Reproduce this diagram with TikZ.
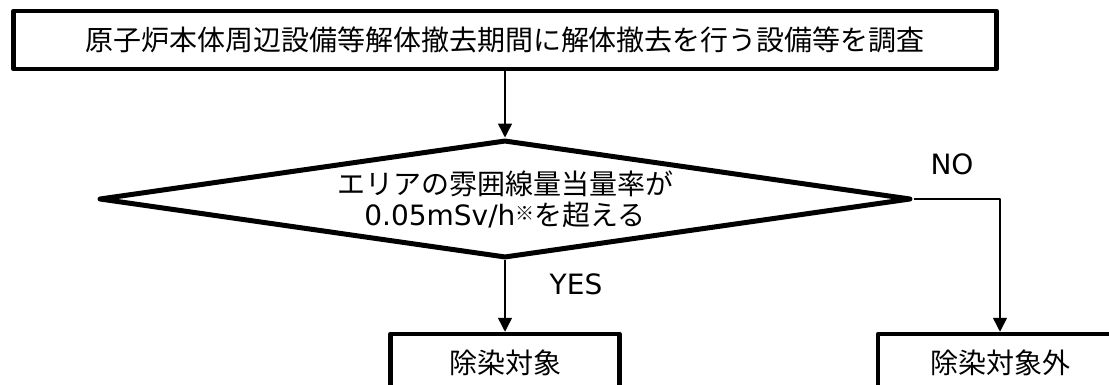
\documentclass[tikz,border=0pt]{standalone}
\usepackage{fontspec}
\setmainfont{DejaVu Sans}
\newfontfamily\jpfont{Noto Sans CJK JP}
\usetikzlibrary{shapes.geometric, arrows.meta}

\begin{document}
\begin{tikzpicture} [
  x = 1pt,
  y = -1pt,
  line join = round,
  box/.style = {draw, line width = 4.5pt, inner sep = 0pt, minimum height = 58pt, font = \jpfont\fontsize{28}{32}\selectfont},
  decision/.style = {draw, diamond, aspect = 6.9, line width = 5pt, inner sep = 0pt, minimum width = 812pt, minimum height = 118pt, align = center, font = \fontsize{28}{31}\selectfont},
  flow/.style = {-{Triangle[width = 14pt, length = 14pt]}, line width = 1.5pt},
  answer/.style = {inner sep = 0pt, font = \fontsize{28}{30}\selectfont},
]
\useasboundingbox (0, 0) rectangle (1109, 385);

\node [box, minimum width = 983pt] (survey) at (505, 40) {原子炉本体周辺設備等解体撤去期間に解体撤去を行う設備等を調査};
\node [decision] (area) at (505, 199) {{\jpfont エリアの雰囲線量当量率が}\\0.05mSv/h{\jpfont\raisebox{5pt}{\fontsize{19}{19}\selectfont ※}を超える}};
\node [box, minimum width = 229pt] (target) at (505, 363) {除染対象};
\node [box, minimum width = 244pt] (excluded) at (1000, 363) {除染対象外};

% answers on the branches
\node [answer] (yes) at (576, 284) {YES};
\node [answer] (no) at (952, 164) {NO};

\draw [flow] (survey) -- (area);
\draw [flow] (area) -- (target);
\draw [flow] (area.east) -| (excluded);
\end{tikzpicture}
\end{document}
